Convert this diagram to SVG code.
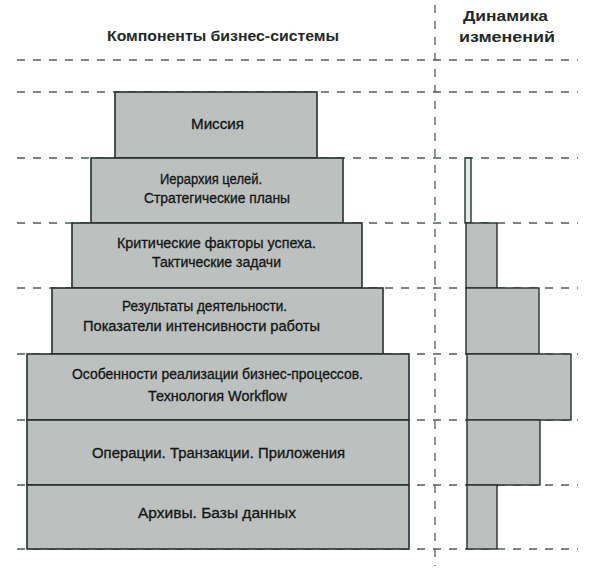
<svg xmlns="http://www.w3.org/2000/svg" width="604" height="579" viewBox="0 0 604 579">
<style>
.grid line{stroke:#4f5c58;stroke-width:1.3;stroke-dasharray:8 8;fill:none}
.box{fill:#bcc0bf;stroke:#26302c;stroke-width:1.6}
.bar{fill:#bcc0bf;stroke:#26302c;stroke-width:1.4}
.lt{fill:#dcecec;stroke:#26302c;stroke-width:1.4}
text{font-family:"Liberation Sans",Arial,sans-serif;fill:#121614}
.t{font-size:14px;stroke:#121614;stroke-width:0.3}
.h{font-size:14px;font-weight:bold;fill:#1f2a26}
</style>
<rect width="604" height="579" fill="#ffffff"/>
<g id="grid" class="grid">
<line x1="17" y1="60" x2="578" y2="60"/>
<line x1="17" y1="92" x2="578" y2="92"/>
<line x1="17" y1="158" x2="578" y2="158"/>
<line x1="17" y1="223" x2="578" y2="223"/>
<line x1="17" y1="288" x2="578" y2="288"/>
<line x1="17" y1="354" x2="578" y2="354"/>
<line x1="17" y1="420" x2="578" y2="420"/>
<line x1="17" y1="485" x2="578" y2="485"/>
<line x1="17" y1="549" x2="578" y2="549"/>
<line x1="435" y1="5" x2="435" y2="566"/>
</g>
<g id="headers">
<text class="h" x="107" y="41" textLength="232" lengthAdjust="spacingAndGlyphs">Компоненты бизнес-системы</text>
<text class="h" x="463" y="21" textLength="85" lengthAdjust="spacingAndGlyphs">Динамика</text>
<text class="h" x="459" y="42" textLength="96" lengthAdjust="spacingAndGlyphs">изменений</text>
</g>
<g id="mission">
<rect class="box" x="115" y="92" width="202" height="66"/>
<text class="t" x="191" y="129" textLength="53" lengthAdjust="spacingAndGlyphs">Миссия</text>
</g>
<g id="goals">
<rect class="box" x="91" y="158" width="252" height="65"/>
<text class="t" x="160" y="184" textLength="102" lengthAdjust="spacingAndGlyphs">Иерархия целей.</text>
<text class="t" x="144" y="203" textLength="146" lengthAdjust="spacingAndGlyphs">Стратегические планы</text>
</g>
<g id="factors">
<rect class="box" x="72" y="223" width="290" height="65"/>
<text class="t" x="117" y="248" textLength="199" lengthAdjust="spacingAndGlyphs">Критические факторы успеха.</text>
<text class="t" x="152" y="267" textLength="129" lengthAdjust="spacingAndGlyphs">Тактические задачи</text>
</g>
<g id="results">
<rect class="box" x="52" y="288" width="331" height="66"/>
<text class="t" x="122" y="311" textLength="165" lengthAdjust="spacingAndGlyphs">Результаты деятельности.</text>
<text class="t" x="83" y="331" textLength="237" lengthAdjust="spacingAndGlyphs">Показатели интенсивности работы</text>
</g>
<g id="features">
<rect class="box" x="27" y="354" width="382" height="66"/>
<text class="t" x="72" y="379" textLength="291" lengthAdjust="spacingAndGlyphs">Особенности реализации бизнес-процессов.</text>
<text class="t" x="148" y="401" textLength="139" lengthAdjust="spacingAndGlyphs">Технология Workflow</text>
</g>
<g id="operations">
<rect class="box" x="27" y="420" width="382" height="65"/>
<text class="t" x="92" y="458" textLength="253" lengthAdjust="spacingAndGlyphs">Операции. Транзакции. Приложения</text>
</g>
<g id="archives">
<rect class="box" x="27" y="485" width="382" height="64"/>
<text class="t" x="138" y="518" textLength="158" lengthAdjust="spacingAndGlyphs">Архивы. Базы данных</text>
</g>
<g id="dynamics">
<rect class="lt" x="465" y="158" width="6" height="65"/>
<rect class="bar" x="466" y="223" width="31" height="65"/>
<rect class="bar" x="466" y="288" width="73" height="66"/>
<rect class="bar" x="467" y="354" width="104" height="66"/>
<rect class="bar" x="467" y="420" width="73" height="65"/>
<rect class="bar" x="467" y="485" width="30" height="64"/>
</g>
</svg>
